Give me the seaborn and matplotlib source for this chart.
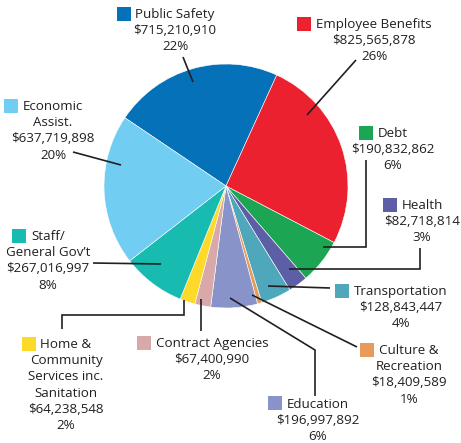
import matplotlib.pyplot as plt
import seaborn as sns

sns.set_theme(style="white")
plt.rcParams['font.family'] = ['Open Sans', 'DejaVu Sans']

# budget categories, clockwise from Public Safety
categories = ["Public Safety", "Employee Benefits", "Debt", "Health", "Transportation",
              "Culture &\nRecreation", "Education", "Contract Agencies",
              "Home &\nCommunity\nServices inc.\nSanitation", "Staff/\nGeneral Gov\u2019t",
              "Economic\nAssist."]
amounts = [715210910, 825565878, 190832862, 82718814, 128843447, 18409589,
           196997892, 67400990, 64238548, 267016997, 637719898]
percents = [22, 26, 6, 3, 4, 1, 6, 2, 2, 8, 20]
colors = ["#0571b8", "#ec2130", "#1ca553", "#5c5ea6", "#4fa7bb", "#e89a5a",
          "#8793c9", "#d9a9aa", "#fdd92a", "#17bbb0", "#72cdf2"]

W, H = 461, 443

# label layout in pixel coords (x from left, y from top): centre of first line
text_xy = [(175, 13), (374, 23), (393, 132), (422, 204), (401, 290), (409, 349),
           (318, 402.5), (212, 342), (66, 343), (48, 235), (53, 105)]
leaders = [
    [(183, 57), (193, 82)],
    [(356, 60), (307, 115)],
    [(366, 160), (366, 247), (323, 247)],
    [(420, 248), (420, 269), (289, 269)],
    [(330, 288), (268, 286)],
    [(357, 347), (252, 295)],
    [(315, 396), (315, 350), (230, 298)],
    [(201, 331), (201, 299)],
    [(62, 329), (62, 315), (184, 315), (184, 300)],
    [(93, 263), (161, 264)],
    [(73, 152), (121, 165)],
]

def px(x, y):
    return x, H - y

fig = plt.figure(figsize=(W / 100, H / 100), dpi=100)
ax = fig.add_axes([0, 0, 1, 1])

palette = sns.color_palette(colors)
ax.pie(amounts, colors=palette, startangle=146, counterclock=False,
       center=px(226, 186), radius=122,
       wedgeprops=dict(edgecolor='white', linewidth=0.4))
ax.set_xlim(0, W)
ax.set_ylim(0, H)
ax.set_aspect('equal')
ax.axis('off')

renderer = fig.canvas.get_renderer()
ink = "#231f20"
line_h = 16.2
for i, name in enumerate(categories):
    lines = name.split("\n") + [f"${amounts[i]:,}", f"{percents[i]}%"]
    tx, ty = text_xy[i]
    first = None
    for j, line in enumerate(lines):
        t = ax.text(*px(tx, ty + j * line_h), line, ha='center', va='center_baseline',
                    fontsize=9.6, color=ink)
        if j == 0:
            first = t
    # colour key sits just left of the first line
    left = first.get_window_extent(renderer).x0
    ax.plot(left - 5 - 6.8, H - ty - 0.5, marker='s', markersize=9.8,
            color=colors[i], markeredgewidth=0)
    pts = [px(x, y) for x, y in leaders[i]]
    ax.plot([p[0] for p in pts], [p[1] for p in pts], color=ink, lw=1.2,
            solid_capstyle='butt', solid_joinstyle='miter')

fig.savefig('out.png', dpi=100)
